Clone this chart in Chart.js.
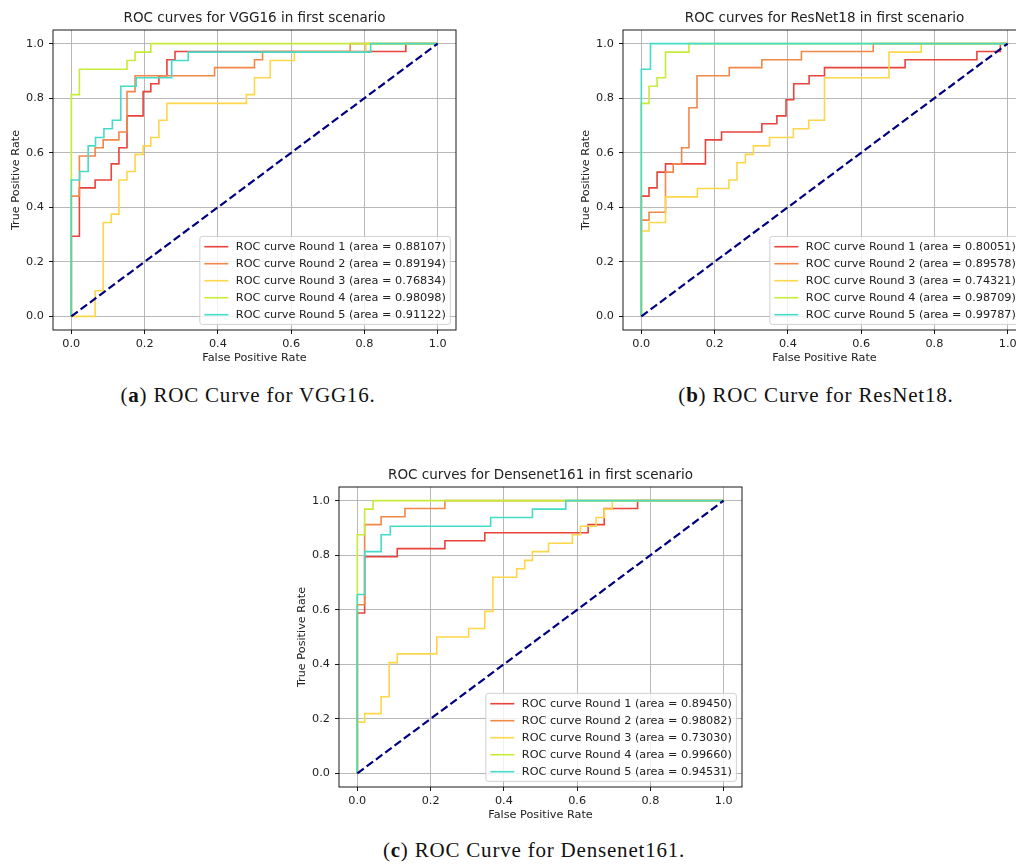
<!DOCTYPE html>
<html>
<head>
<meta charset="utf-8">
<script src="https://cdn.jsdelivr.net/npm/chart.js@4.4.1/dist/chart.umd.min.js"></script>
<style>
  html, body { margin: 0; padding: 0; background: #fff; overflow: hidden; width: 1016px; height: 867px; }
  .panel { position: absolute; }
  .panel canvas { display: block; }
  .cap { position: absolute; width: 440px; text-align: center; font-family: "Liberation Serif", serif;
         font-size: 21px; letter-spacing: 0.8px; color: #111; line-height: 1; white-space: nowrap; }
</style>
</head>
<body>
<div class="panel" style="left:0px;top:0px"><canvas id="vggChart" width="470" height="370"></canvas></div>
<div class="panel" style="left:570px;top:0px"><canvas id="resnetChart" width="470" height="370"></canvas></div>
<div class="panel" style="left:286px;top:457px"><canvas id="densenetChart" width="470" height="370"></canvas></div>
<div class="cap" style="left:28px;top:385px">(<b>a</b>) ROC Curve for VGG16.</div>
<div class="cap" style="left:596px;top:385px">(<b>b</b>) ROC Curve for ResNet18.</div>
<div class="cap" style="left:314px;top:840px">(<b>c</b>) ROC Curve for Densenet161.</div>
<script>
// axis ticks shared by every panel
const rateTicks = [0, 0.2, 0.4, 0.6, 0.8, 1.0];
const roundColors = ['#e8433d', '#f2874a', '#fdd64a', '#c4ec38', '#44dcc8'];
const diagFpr = [0, 1];
const diagTpr = [0, 1];

// VGG16
const vggAuc = [0.88107, 0.89194, 0.76834, 0.98098, 0.91122];
const vggFpr1 = [0, 0, 0.022, 0.022, 0.065, 0.065, 0.109, 0.109, 0.130, 0.130, 0.152, 0.152, 0.196, 0.196, 0.217, 0.217, 0.239, 0.239, 0.261, 0.261, 0.283, 0.283, 0.913, 0.913, 1];
const vggTpr1 = [0, 0.294, 0.294, 0.471, 0.471, 0.5, 0.5, 0.559, 0.559, 0.618, 0.618, 0.735, 0.735, 0.824, 0.824, 0.853, 0.853, 0.882, 0.882, 0.941, 0.941, 0.971, 0.971, 1, 1];
const vggFpr2 = [0, 0, 0.022, 0.022, 0.065, 0.065, 0.087, 0.087, 0.130, 0.130, 0.152, 0.152, 0.174, 0.174, 0.391, 0.391, 0.5, 0.5, 0.522, 0.522, 0.761, 0.761, 1];
const vggTpr2 = [0, 0.441, 0.441, 0.588, 0.588, 0.618, 0.618, 0.647, 0.647, 0.676, 0.676, 0.824, 0.824, 0.882, 0.882, 0.912, 0.912, 0.941, 0.941, 0.971, 0.971, 1, 1];
const vggFpr3 = [0, 0.065, 0.065, 0.087, 0.087, 0.109, 0.109, 0.130, 0.130, 0.152, 0.152, 0.174, 0.174, 0.196, 0.196, 0.217, 0.217, 0.239, 0.239, 0.261, 0.261, 0.478, 0.478, 0.5, 0.5, 0.543, 0.543, 0.609, 0.609, 0.804, 0.804, 1];
const vggTpr3 = [0, 0, 0.094, 0.094, 0.344, 0.344, 0.375, 0.375, 0.5, 0.5, 0.531, 0.531, 0.594, 0.594, 0.625, 0.625, 0.656, 0.656, 0.719, 0.719, 0.781, 0.781, 0.813, 0.813, 0.875, 0.875, 0.938, 0.938, 0.969, 0.969, 1, 1];
const vggFpr4 = [0, 0, 0.022, 0.022, 0.152, 0.152, 0.174, 0.174, 0.217, 0.217, 1];
const vggTpr4 = [0, 0.813, 0.813, 0.906, 0.906, 0.938, 0.938, 0.969, 0.969, 1, 1];
const vggFpr5 = [0, 0, 0.023, 0.023, 0.046, 0.046, 0.066, 0.066, 0.089, 0.089, 0.112, 0.112, 0.135, 0.135, 0.177, 0.177, 0.274, 0.274, 0.319, 0.319, 0.817, 0.817, 1];
const vggTpr5 = [0, 0.5, 0.5, 0.531, 0.531, 0.625, 0.625, 0.656, 0.656, 0.688, 0.688, 0.719, 0.719, 0.844, 0.844, 0.875, 0.875, 0.938, 0.938, 0.969, 0.969, 1, 1];

// ResNet18
const resAuc = [0.80051, 0.89578, 0.74321, 0.98709, 0.99787];
const resFpr1 = [0, 0, 0.021, 0.021, 0.043, 0.043, 0.066, 0.066, 0.175, 0.175, 0.219, 0.219, 0.329, 0.329, 0.37, 0.37, 0.395, 0.395, 0.416, 0.416, 0.458, 0.458, 0.5, 0.5, 0.72, 0.72, 0.916, 0.916, 0.98, 0.98, 1];
const resTpr1 = [0, 0.441, 0.441, 0.471, 0.471, 0.529, 0.529, 0.559, 0.559, 0.647, 0.647, 0.676, 0.676, 0.706, 0.706, 0.735, 0.735, 0.794, 0.794, 0.853, 0.853, 0.882, 0.882, 0.912, 0.912, 0.941, 0.941, 0.971, 0.971, 1, 1];
const resFpr2 = [0, 0, 0.021, 0.021, 0.066, 0.066, 0.087, 0.087, 0.11, 0.11, 0.13, 0.13, 0.152, 0.152, 0.24, 0.24, 0.329, 0.329, 0.437, 0.437, 0.633, 0.633, 1];
const resTpr2 = [0, 0.353, 0.353, 0.382, 0.382, 0.529, 0.529, 0.559, 0.559, 0.618, 0.618, 0.765, 0.765, 0.882, 0.882, 0.912, 0.912, 0.941, 0.941, 0.971, 0.971, 1, 1];
const resFpr3 = [0, 0, 0.021, 0.021, 0.066, 0.066, 0.153, 0.153, 0.239, 0.239, 0.261, 0.261, 0.284, 0.284, 0.306, 0.306, 0.35, 0.35, 0.415, 0.415, 0.457, 0.457, 0.5, 0.5, 0.676, 0.676, 0.764, 0.764, 1];
const resTpr3 = [0, 0.313, 0.313, 0.344, 0.344, 0.438, 0.438, 0.469, 0.469, 0.5, 0.5, 0.563, 0.563, 0.594, 0.594, 0.625, 0.625, 0.656, 0.656, 0.688, 0.688, 0.719, 0.719, 0.875, 0.875, 0.969, 0.969, 1, 1];
const resFpr4 = [0, 0, 0.021, 0.021, 0.043, 0.043, 0.066, 0.066, 0.13, 0.13, 1];
const resTpr4 = [0, 0.781, 0.781, 0.844, 0.844, 0.875, 0.875, 0.969, 0.969, 1, 1];
const resFpr5 = [0, 0, 0.025, 0.025, 1];
const resTpr5 = [0, 0.906, 0.906, 1, 1];

// Densenet161
const denseAuc = [0.89450, 0.98082, 0.73030, 0.99660, 0.94531];
const denseFpr1 = [0, 0, 0.02, 0.02, 0.109, 0.109, 0.239, 0.239, 0.348, 0.348, 0.63, 0.63, 0.674, 0.674, 0.765, 0.765, 1];
const denseTpr1 = [0, 0.588, 0.588, 0.794, 0.794, 0.824, 0.824, 0.853, 0.853, 0.882, 0.882, 0.912, 0.912, 0.971, 0.971, 1, 1];
const denseFpr2 = [0, 0, 0.02, 0.02, 0.065, 0.065, 0.13, 0.13, 0.239, 0.239, 1];
const denseTpr2 = [0, 0.618, 0.618, 0.912, 0.912, 0.941, 0.941, 0.971, 0.971, 1, 1];
const denseFpr3 = [0, 0, 0.02, 0.02, 0.065, 0.065, 0.087, 0.087, 0.109, 0.109, 0.217, 0.217, 0.304, 0.304, 0.348, 0.348, 0.37, 0.37, 0.435, 0.435, 0.457, 0.457, 0.478, 0.478, 0.522, 0.522, 0.587, 0.587, 0.609, 0.609, 0.652, 0.652, 0.674, 0.674, 0.696, 0.696, 1];
const denseTpr3 = [0, 0.188, 0.188, 0.219, 0.219, 0.281, 0.281, 0.406, 0.406, 0.438, 0.438, 0.5, 0.5, 0.531, 0.531, 0.594, 0.594, 0.719, 0.719, 0.75, 0.75, 0.781, 0.781, 0.813, 0.813, 0.844, 0.844, 0.875, 0.875, 0.906, 0.906, 0.938, 0.938, 0.969, 0.969, 1, 1];
const denseFpr4 = [0, 0, 0.02, 0.02, 0.043, 0.043, 1];
const denseTpr4 = [0, 0.875, 0.875, 0.969, 0.969, 1, 1];
const denseFpr5 = [0, 0, 0.02, 0.02, 0.065, 0.065, 0.09, 0.09, 0.364, 0.364, 0.478, 0.478, 0.569, 0.569, 1];
const denseTpr5 = [0, 0.656, 0.656, 0.813, 0.813, 0.875, 0.875, 0.906, 0.906, 0.938, 0.938, 0.969, 0.969, 1, 1];

Chart.defaults.font.family = '"DejaVu Sans", sans-serif';
Chart.defaults.color = '#222';

// title above the axes + black box round the plot area
const plotFrame = {
  id: 'plotFrame',
  afterDraw(chart, args, opts) {
    const { ctx, chartArea } = chart;
    ctx.save();
    ctx.strokeStyle = '#000';
    ctx.lineWidth = 0.9;
    ctx.strokeRect(chartArea.left, chartArea.top, chartArea.width, chartArea.height);
    ctx.font = '13.5px "DejaVu Sans"';
    ctx.fillStyle = '#222';
    ctx.textAlign = 'center';
    ctx.textBaseline = 'middle';
    ctx.fillText(opts.text, (chartArea.left + chartArea.right) / 2, chartArea.top - 12);
    ctx.restore();
  }
};

// matplotlib style legend, lower right inside the axes
const roundLegend = {
  id: 'roundLegend',
  afterDatasetsDraw(chart) {
    const { ctx, chartArea } = chart;
    const items = chart.data.datasets.filter(d => d.label);
    ctx.save();
    ctx.font = '11.25px "DejaVu Sans"';
    const textW = Math.max(...items.map(d => ctx.measureText(d.label).width));
    const w = textW + 40.5;
    const h = items.length * 17 + 3;
    const x = chartArea.right - 5.6 - w;
    const y = chartArea.bottom - 5.6 - h;
    ctx.beginPath();
    if (ctx.roundRect) ctx.roundRect(x, y, w, h, 2.5); else ctx.rect(x, y, w, h);
    ctx.fillStyle = 'rgba(255,255,255,0.8)';
    ctx.fill();
    ctx.strokeStyle = '#cccccc';
    ctx.lineWidth = 0.9;
    ctx.stroke();
    items.forEach((d, i) => {
      const cy = y + 10.3 + i * 17;
      ctx.beginPath();
      ctx.moveTo(x + 4.5, cy);
      ctx.lineTo(x + 28.5, cy);
      ctx.strokeStyle = d.borderColor;
      ctx.lineWidth = d.borderWidth;
      ctx.stroke();
      ctx.fillStyle = '#222';
      ctx.textBaseline = 'middle';
      ctx.fillText(d.label, x + 36, cy + 0.5);
    });
    ctx.restore();
  }
};

function rateAxis(label, isX) {
  return {
    type: 'linear',
    min: -0.05,
    max: 1.05,
    afterBuildTicks: s => { s.ticks = rateTicks.map(v => ({ value: v })); },
    afterFit: s => { if (isX) s.height = 35; else s.width = 44; },
    ticks: { callback: v => v.toFixed(1), font: { size: 11.25 }, color: '#222', padding: isX ? 3 : 5, maxRotation: 0, autoSkip: false },
    grid: { color: '#b0b0b0', lineWidth: 0.9, tickColor: '#000', tickLength: 4, tickWidth: 0.9 },
    border: { display: false },
    title: { display: true, text: label, font: { size: 11.25 }, color: '#222', padding: 0 }
  };
}

function drawRoc(id, title, fprs, tprs, aucs) {
  const datasets = fprs.map((fpr, i) => ({
    label: `ROC curve Round ${i + 1} (area = ${aucs[i].toFixed(5)})`,
    data: fpr.map((x, j) => ({ x: x, y: tprs[i][j] })),
    borderColor: roundColors[i],
    borderWidth: 1.6,
    showLine: true,
    order: fprs.length - i
  }));
  datasets.push({
    label: '',
    data: diagFpr.map((x, j) => ({ x: x, y: diagTpr[j] })),
    borderColor: '#000080',
    borderWidth: 2.2,
    borderDash: [8, 3.6],
    showLine: true,
    order: 0
  });

  new Chart(document.getElementById(id), {
    type: 'scatter',
    data: { datasets: datasets },
    options: {
      responsive: false,
      animation: false,
      layout: { padding: { top: 30, right: 14, bottom: 5, left: 9 } },
      elements: { point: { radius: 0 }, line: { tension: 0, fill: false } },
      plugins: { legend: { display: false }, tooltip: { enabled: false }, plotFrame: { text: title } },
      scales: {
        x: rateAxis('False Positive Rate', true),
        y: rateAxis('True Positive Rate', false)
      }
    },
    plugins: [roundLegend, plotFrame]
  });
}

drawRoc('vggChart', 'ROC curves for VGG16 in first scenario',
  [vggFpr1, vggFpr2, vggFpr3, vggFpr4, vggFpr5], [vggTpr1, vggTpr2, vggTpr3, vggTpr4, vggTpr5], vggAuc);
drawRoc('resnetChart', 'ROC curves for ResNet18 in first scenario',
  [resFpr1, resFpr2, resFpr3, resFpr4, resFpr5], [resTpr1, resTpr2, resTpr3, resTpr4, resTpr5], resAuc);
drawRoc('densenetChart', 'ROC curves for Densenet161 in first scenario',
  [denseFpr1, denseFpr2, denseFpr3, denseFpr4, denseFpr5], [denseTpr1, denseTpr2, denseTpr3, denseTpr4, denseTpr5], denseAuc);
</script>
</body>
</html>
